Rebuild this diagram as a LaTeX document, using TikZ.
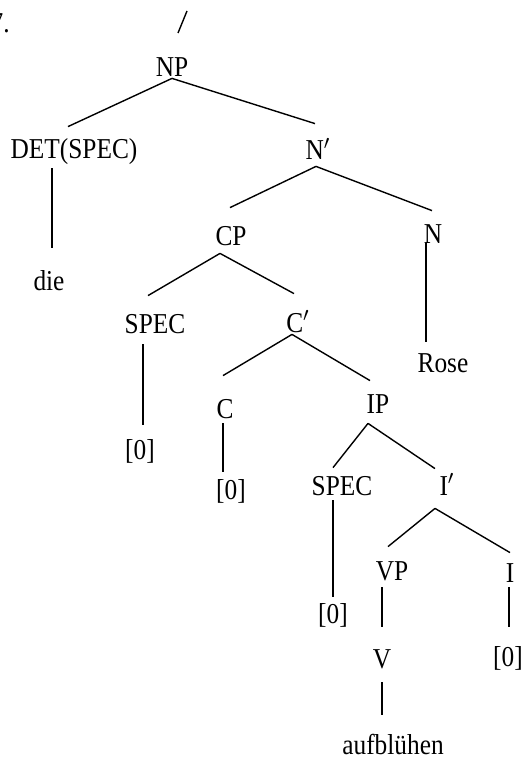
\documentclass[tikz,border=0pt]{standalone}
\usepackage{fontspec}
\setmainfont{Liberation Serif}
\newfontfamily\treefont[FakeStretch=0.88]{Liberation Serif}

\tikzset{
  cat/.style={font=\treefont\fontsize{14.4}{17}\selectfont, inner sep=0pt,
    anchor=base, text height=9.5pt, text depth=0pt},
  branch/.style={line width=0.7pt}
}

\begin{document}
\begin{tikzpicture}[x=0.5pt,y=-0.5pt,every node/.style={cat}]
 \useasboundingbox (0,0) rectangle (524,759);
 % remains of the example number and the tree before
 \node[anchor=base east] (num) at (10,33) {7.};
 \coordinate (cut_a) at (178,33);
 \coordinate (cut_b) at (187,11);
 \draw[branch] (cut_a) -- (cut_b);

 \node (np)    at (172,77)  {NP};
 \node (det)   at (74,159)  {DET(SPEC)};
 \node (nbar)  at (318,160) {N$'$};
 \node (die)   at (49,290)  {die};
 \node (cp)    at (231,245) {CP};
 \node (n)     at (433,243) {N};
 \node (rose)  at (443,372) {Rose};
 \node (spec1) at (155,333) {SPEC};
 \node (cbar)  at (298,332) {C$'$};
 \node (zero1) at (140,459) {[0]};
 \node (c)     at (225,418) {C};
 \node (ip)    at (378,413) {IP};
 \node (zero2) at (231,499) {[0]};
 \node (spec2) at (342,495) {SPEC};
 \node (ibar)  at (447,495) {I$'$};
 \node (zero3) at (333,623) {[0]};
 \node (vp)    at (392,580) {VP};
 \node (i)     at (510,582) {I};
 \node (v)     at (382,668) {V};
 \node (zero4) at (508,666) {[0]};
 \node (verb)  at (393,754) {aufblühen};

 % branching
 \draw[branch]
  ([shift={(0,1)}]np.south) -- ([shift={(-6,-13)}]det.north)
  ([shift={(0,1)}]np.south) -- ([shift={(-3,-17)}]nbar.north)
  ([shift={(-2,6)}]nbar.south) -- ([shift={(-1,-18)}]cp.north)
  ([shift={(-2,6)}]nbar.south) -- ([shift={(-1,-13)}]n.north)
  ([shift={(-11,8)}]cp.south) -- ([shift={(-7,-18)}]spec1.north)
  ([shift={(-11,8)}]cp.south) -- ([shift={(-4,-19)}]cbar.north)
  ([shift={(-6,2)}]cbar.south) -- ([shift={(-2,-23)}]c.north)
  ([shift={(-6,2)}]cbar.south) -- ([shift={(-8,-13)}]ip.north)
  ([shift={(-10,10)}]ip.south) -- ([shift={(-9,-8)}]spec2.north)
  ([shift={(-10,10)}]ip.south) -- ([shift={(-12,-7)}]ibar.north)
  ([shift={(-12,13)}]ibar.south) -- ([shift={(-4,-14)}]vp.north)
  ([shift={(-12,13)}]ibar.south) -- ([shift={(0,-10)}]i.north);

 % unary lines
 \draw[branch]
  ([shift={(-22,9)}]det.south) -- ([shift={(3,-23)}]die.north)
  ([shift={(-7,0)}]n.south) -- ([shift={(-17,-11)}]rose.north)
  ([shift={(-12,11)}]spec1.south) -- ([shift={(3,-15)}]zero1.north)
  ([shift={(-2,5)}]c.south) -- ([shift={(-8,-8)}]zero2.north)
  ([shift={(-9,5)}]spec2.south) -- ([shift={(0,-7)}]zero3.north)
  ([shift={(-10,7)}]vp.south) -- ([shift={(0,-22)}]v.north)
  ([shift={(-1,5)}]i.south) -- ([shift={(1,-20)}]zero4.north)
  ([shift={(0,14)}]v.south) -- ([shift={(-11,-20)}]verb.north);
\end{tikzpicture}
\end{document}
